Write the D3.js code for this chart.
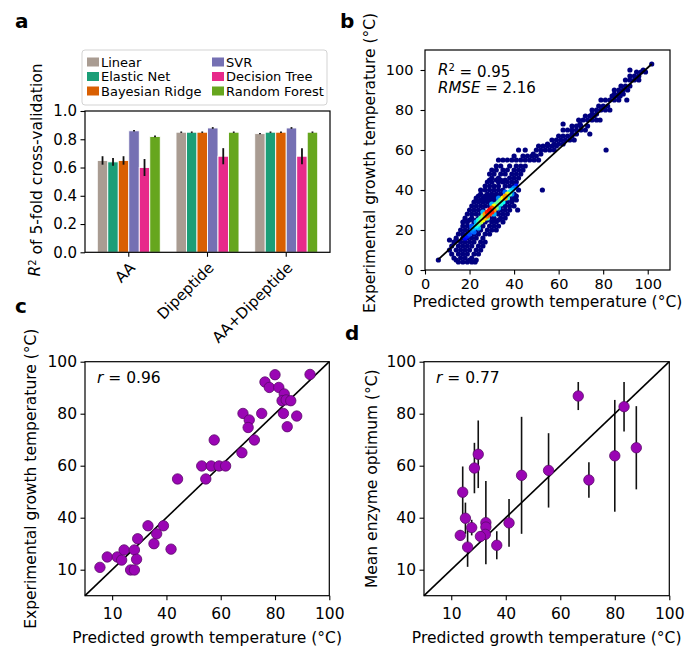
<!DOCTYPE html>
<html>
<head>
<meta charset="utf-8">
<script src="https://cdn.jsdelivr.net/npm/d3@7"></script>
<style>
  body { margin: 0; background: #fff; }
  text { font-family: "DejaVu Sans", sans-serif; }
</style>
</head>
<body>
<script>
// ---- panel a data ----
var groups = ["AA", "Dipeptide", "AA+Dipeptide"]
var models = ["Linear", "Elastic Net", "Bayesian Ridge", "SVR", "Decision Tree", "Random Forest"]
var modelColors = ["#a99c92", "#1b9e77", "#d95f02", "#7570b3", "#e7298a", "#66a61e"]
var r2AA = [0.65, 0.64, 0.65, 0.86, 0.60, 0.82]
var r2Dipeptide = [0.85, 0.85, 0.85, 0.88, 0.68, 0.85]
var r2Both = [0.84, 0.85, 0.85, 0.88, 0.68, 0.85]
var errAA = [0.03, 0.028, 0.03, 0.005, 0.06, 0.006]
var errDipeptide = [0.005, 0.005, 0.005, 0.006, 0.057, 0.005]
var errBoth = [0.005, 0.005, 0.005, 0.006, 0.057, 0.005]
var r2Ticks = [0, 0.2, 0.4, 0.6, 0.8, 1.0]

// ---- panel b data: rows of experimental temp -> predicted temps (dark blue points) ----
var scatterRows = [
  [4, [15, 17, 19, 21, 22.5]],
  [5, [6, 14, 20, 23]],
  [6, [13, 16, 18, 21]],
  [8, [12, 15, 17, 19, 22, 24]],
  [10, [11, 14, 16, 18, 20, 23, 25]],
  [12, [12, 15, 17, 19, 21, 24, 26]],
  [14, [13, 16, 18, 20, 22, 25, 27]],
  [15, [11, 14]],
  [16, [14, 17, 19, 21, 23, 26]],
  [18, [15, 17, 19, 22, 24, 27, 29]],
  [20, [16, 18, 20, 23, 25, 28, 30, 32]],
  [22, [17, 19, 21, 24, 26, 29, 31, 33]],
  [24, [17, 19, 22, 27, 30, 32, 35]],
  [25, [18, 20, 23, 28, 31, 33]],
  [26, [18, 21, 24, 29, 31, 34, 36]],
  [28, [19, 21, 23, 25, 31, 33, 35, 37]],
  [30, [20, 22, 24, 26, 32, 34, 36, 38, 41.6]],
  [32, [21, 23, 25, 27, 29, 34, 36, 38, 40]],
  [34, [22, 24, 26, 28, 30, 32, 37, 39]],
  [35, [23, 25, 27, 29, 31, 39, 41]],
  [36, [23, 26, 28, 30, 32, 34, 40]],
  [37, [24, 27, 29, 31, 33, 38, 41]],
  [38, [25, 28, 30, 32, 34, 40]],
  [40, [25, 27, 29, 31, 33, 35, 42, 52.7]],
  [42, [27, 29, 31, 33, 36, 38, 40]],
  [44, [28, 30, 33, 35, 37, 39, 41]],
  [45, [29, 32, 34, 36]],
  [46, [30, 33, 38, 40, 42]],
  [48, [29, 31, 34, 36, 39, 41, 43]],
  [50, [30, 32, 35, 37, 40, 42, 44]],
  [52, [32, 34, 38, 41, 43, 45]],
  [55, [33, 35, 37, 39, 41, 43, 45, 47, 49, 51]],
  [57, [40, 44, 46, 48, 50]],
  [58, [48.6, 52]],
  [60, [42, 45, 50, 52, 54, 56, 58, 81.3]],
  [62, [51, 53, 55, 57, 59]],
  [63, [55, 58, 60, 62]],
  [65, [57, 59, 61, 63, 65, 67]],
  [67, [60, 62, 64, 66]],
  [68, [66, 68, 74]],
  [70, [62, 64, 66, 68, 70, 72]],
  [72, [66, 68, 70, 73]],
  [73, [62, 69.6]],
  [75, [69, 71, 73, 75, 77, 78.6]],
  [77, [72, 74, 76]],
  [78, [75, 77]],
  [80, [75, 77, 79, 81, 83]],
  [82, [78, 80, 82]],
  [85, [79, 81, 83, 85, 87, 90.6]],
  [87, [84, 86, 87.6]],
  [88, [85, 87, 89]],
  [90, [85, 87, 89, 91]],
  [92, [88, 90, 92]],
  [95, [90, 92, 94, 96]],
  [97, [92, 94, 96]],
  [99, [95, 97, 99]],
  [100, [92, 98]],
  [103, [101.8]]
]
// dense core: [predicted, experimental, relative density]
var densePoints = [
  [20, 18, 0.2], [21, 20, 0.25], [22, 19, 0.22], [22, 21, 0.3], [23, 22, 0.38], [24, 23, 0.45],
  [24, 21, 0.3], [25, 24, 0.55], [25, 26, 0.45], [26, 25, 0.62], [26, 27, 0.5], [27, 26, 0.68],
  [27, 28, 0.72], [28, 27, 0.78], [28, 29, 0.85], [29, 28, 0.82], [29, 30, 0.88], [30, 29, 0.84],
  [30, 31, 0.8], [31, 30, 0.72], [31, 32, 0.62], [32, 31, 0.5], [32, 33, 0.48], [33, 34, 0.45],
  [34, 33, 0.4], [34, 35, 0.5], [35, 36, 0.62], [36, 36, 0.7], [36, 37, 0.72], [37, 38, 0.6],
  [38, 38, 0.45], [38, 39, 0.4], [39, 40, 0.32], [40, 41, 0.25], [37, 36, 0.4], [35, 34, 0.38],
  [33, 31, 0.3], [23, 24, 0.3], [21, 22, 0.2], [19, 17, 0.15], [26, 29, 0.3], [30, 33, 0.3],
  [33, 36, 0.25], [36, 39, 0.22], [28, 26, 0.45], [31, 28, 0.3], [24, 25, 0.4], [39, 38, 0.25],
  [41, 42, 0.15], [18, 16, 0.12]
]
var fitLine = [[6, 5.3], [101.8, 103]]
var bTicks = [0, 20, 40, 60, 80, 100]

// ---- panel c data ----
var predC = [15.5, 18.2, 21.9, 23.5, 24.4, 26.8, 28.2, 28.2, 29.0, 29.4, 33.2, 35.4, 36.4, 38.9, 41.7, 44.1, 53.0, 54.5, 56.5, 57.6,
  59.4, 61.8, 67.8, 68.2, 70.5, 70.1, 72.4, 75.1, 76.3, 77.9, 80.0, 81.4, 83.4, 82.6, 84.1, 85.8, 83.1, 84.5, 88.0, 92.9]
var expC = [20.9, 24.9, 24.9, 23.7, 27.6, 19.9, 19.9, 27.6, 24.0, 31.9, 36.9, 30.0, 33.8, 36.9, 27.9, 54.9, 59.9, 54.9, 59.9, 69.9,
  59.9, 59.9, 65.0, 80.1, 77.6, 74.7, 69.9, 80.1, 92.2, 90.1, 95.0, 90.1, 87.6, 85.0, 85.3, 85.0, 80.1, 75.0, 79.1, 95.1]

// ---- panel d data ----
var predD = [66.6, 83.4, 87.9, 80.0, 70.5, 55.7, 45.8, 41.2, 36.7, 32.7, 32.7, 32.5, 30.7, 29.9, 28.5, 27.5, 26.0, 25.2, 24.2, 23.3]
var enzD = [86.8, 82.7, 66.9, 63.8, 54.5, 58.2, 56.3, 38.0, 29.4, 38.1, 36.4, 33.6, 32.8, 64.4, 59.1, 36.2, 28.7, 39.8, 49.8, 33.2]
var enzErr = [5.4, 9.5, 16, 21.5, 6.8, 14.3, 22.5, 9.2, 5.4, 16, 3, 2, 2, 13, 9.7, 3, 7.6, 6, 9.9, 2]

var cdTicks = [20, 40, 60, 80, 100]
var cdTickLabels = ["10", "40", "60", "80", "100"]

// ---------------------------------------------------------------
var svg = d3.select("body").append("svg")
    .attr("width", 686)
    .attr("height", 649)

var jet = d3.scaleLinear()
    .domain([0, 0.125, 0.375, 0.625, 0.875, 1])
    .range(["#00007f", "#0000ff", "#00ffff", "#ffff00", "#ff0000", "#7f0000"])

function styleAxis(g, size) {
    g.select(".domain").remove()
    g.attr("font-family", null).attr("font-size", null)
    g.selectAll("line").attr("stroke", "#000").attr("stroke-width", 1.1)
    g.selectAll("text").attr("fill", "#000").style("font-size", size + "px")
}

function frame(x0, x1, y0, y1) {
    svg.append("rect")
        .attr("x", x0).attr("y", y1)
        .attr("width", x1 - x0).attr("height", y0 - y1)
        .attr("fill", "none").attr("stroke", "#000").attr("stroke-width", 1.2)
}

function panelLetter(t, x, y) {
    svg.append("text").attr("x", x).attr("y", y).text(t)
        .style("font-size", "20px").style("font-weight", "bold")
}

function yLabel(t, cx, cy) {
    return svg.append("text")
        .attr("transform", "translate(" + (cx + 5) + "," + cy + ") rotate(-90)")
        .attr("text-anchor", "middle")
        .style("font-size", "15.5px")
        .text(t)
}

function xLabel(t, cx, y) {
    svg.append("text").attr("x", cx).attr("y", y)
        .attr("text-anchor", "middle").style("font-size", "15.5px").text(t)
}

// ================= panel a =================
var a = { left: 85, right: 330, top: 111, bottom: 252.3 }
var barValues = [r2AA, r2Dipeptide, r2Both]
var barErrors = [errAA, errDipeptide, errBoth]

var xA = d3.scaleBand().domain(groups).range([a.left, a.right])
    .paddingInner(0.2).paddingOuter(0.156)
var xInner = d3.scaleBand().domain(models).range([0, xA.bandwidth()])
var yA = d3.scaleLinear().domain([0, 1]).range([a.bottom, a.top])

groups.forEach(function (grp, gi) {
    var gg = svg.append("g").attr("transform", "translate(" + xA(grp) + ",0)")
    gg.selectAll("rect").data(models).enter().append("rect")
        .attr("x", d => xInner(d))
        .attr("y", (d, i) => yA(barValues[gi][i]))
        .attr("width", xInner.bandwidth())
        .attr("height", (d, i) => yA(0) - yA(barValues[gi][i]))
        .attr("fill", (d, i) => modelColors[i])
        .attr("stroke", "#fff").attr("stroke-width", 0.9)
    gg.selectAll("line").data(models).enter().append("line")
        .attr("x1", d => xInner(d) + xInner.bandwidth() / 2)
        .attr("x2", d => xInner(d) + xInner.bandwidth() / 2)
        .attr("y1", (d, i) => yA(barValues[gi][i] - barErrors[gi][i]))
        .attr("y2", (d, i) => yA(barValues[gi][i] + barErrors[gi][i]))
        .attr("stroke", "#111").attr("stroke-width", 1.8)
})

svg.append("g")
    .attr("transform", "translate(" + a.left + ",0)")
    .call(d3.axisLeft(yA).tickValues(r2Ticks).tickFormat(d3.format(".1f")).tickSize(4.5).tickPadding(3.5))
    .call(g => styleAxis(g, 15))

var xAxisA = svg.append("g")
    .attr("transform", "translate(0," + a.bottom + ")")
    .call(d3.axisBottom(xA).tickSize(4.5).tickSizeOuter(0))
    .call(g => styleAxis(g, 15))
xAxisA.selectAll("text")
    .attr("text-anchor", "end")
    .attr("y", 0).attr("dy", "0.6em")
    .attr("transform", "translate(1,10) rotate(-45)")

frame(a.left, a.right, a.bottom, a.top)

var yla = svg.append("text")
    .attr("transform", "translate(40,170) rotate(-90)")
    .attr("text-anchor", "middle")
    .style("font-size", "15.5px")
yla.append("tspan").style("font-style", "italic").text("R")
yla.append("tspan").attr("dy", "-0.45em").style("font-size", "10px").text("2")
yla.append("tspan").attr("dy", "0.45em").text(" of 5-fold cross-validation")

// legend
var leg = svg.append("g")
leg.append("rect").attr("x", 82).attr("y", 50).attr("width", 245).attr("height", 55)
    .attr("rx", 3).attr("fill", "#fff").attr("stroke", "#d3d3d3").attr("stroke-width", 1)
models.forEach(function (m, i) {
    var col = Math.floor(i / 3), row = i % 3
    var lx = col === 0 ? 87 : 212
    var ly = 62 + row * 14.5
    leg.append("rect").attr("x", lx).attr("y", ly - 4.5).attr("width", 12).attr("height", 9)
        .attr("fill", modelColors[i])
    leg.append("text").attr("x", lx + 14).attr("y", ly + 4.6).style("font-size", "13px").text(m)
})

// ================= panel b =================
var b = { left: 425, right: 670, top: 50, bottom: 270 }
var xB = d3.scaleLinear().domain([0, 110]).range([b.left, b.right])
var yB = d3.scaleLinear().domain([0, 110]).range([b.bottom, b.top])

var bluePoints = []
scatterRows.forEach(function (r) {
    r[1].forEach(function (p) { bluePoints.push([p, r[0], 0]) })
})
var allB = bluePoints.concat(densePoints.slice().sort((p, q) => p[2] - q[2]))

svg.append("g").selectAll("circle").data(allB).enter().append("circle")
    .attr("cx", d => xB(d[0]))
    .attr("cy", d => yB(d[1]))
    .attr("r", 2.6)
    .attr("fill", d => jet(d[2]))

svg.append("line")
    .attr("x1", xB(fitLine[0][0])).attr("y1", yB(fitLine[0][1]))
    .attr("x2", xB(fitLine[1][0])).attr("y2", yB(fitLine[1][1]))
    .attr("stroke", "#000").attr("stroke-width", 1.8)

svg.append("g").attr("transform", "translate(" + b.left + ",0)")
    .call(d3.axisLeft(yB).tickValues(bTicks).tickSize(4.5).tickPadding(7))
    .call(g => styleAxis(g, 14.5))
svg.append("g").attr("transform", "translate(0," + b.bottom + ")")
    .call(d3.axisBottom(xB).tickValues(bTicks).tickSize(4.5).tickPadding(4))
    .call(g => styleAxis(g, 14.5))
frame(b.left, b.right, b.bottom, b.top)

var r2t = svg.append("text").attr("x", 438).attr("y", 75).style("font-size", "15px")
r2t.append("tspan").style("font-style", "italic").text("R")
r2t.append("tspan").attr("dy", "-0.45em").style("font-size", "10px").text("2")
r2t.append("tspan").attr("dy", "0.45em").text(" = 0.95")
var rmt = svg.append("text").attr("x", 438).attr("y", 93).style("font-size", "15px")
rmt.append("tspan").style("font-style", "italic").text("RMSE")
rmt.append("tspan").text(" = 2.16")

yLabel("Experimental growth temperature (°C)", 370, 163)
xLabel("Predicted growth temperature (°C)", (b.left + b.right) / 2, 307)

// ================= panels c and d =================
function scatterPanel(p, xs, ys, errs, rText) {
    var x = d3.scaleLinear().domain([10, 100]).range([p.left, p.right])
    var y = d3.scaleLinear().domain([10, 100]).range([p.bottom, p.top])

    if (errs) {
        svg.append("g").selectAll("line").data(xs).enter().append("line")
            .attr("x1", d => x(d)).attr("x2", d => x(d))
            .attr("y1", (d, i) => y(ys[i] - errs[i]))
            .attr("y2", (d, i) => y(ys[i] + errs[i]))
            .attr("stroke", "#111").attr("stroke-width", 1.6)
    }

    svg.append("line")
        .attr("x1", x(10)).attr("y1", y(10))
        .attr("x2", x(100)).attr("y2", y(100))
        .attr("stroke", "#000").attr("stroke-width", 1.6)

    svg.append("g").selectAll("circle").data(xs).enter().append("circle")
        .attr("cx", d => x(d))
        .attr("cy", (d, i) => y(ys[i]))
        .attr("r", 5.2)
        .attr("fill", "#9a05b4")
        .attr("stroke", "#5a0a6a").attr("stroke-width", 0.8)

    svg.append("g").attr("transform", "translate(" + p.left + ",0)")
        .call(d3.axisLeft(y).tickValues(cdTicks).tickFormat((d, i) => cdTickLabels[i]).tickSize(4.5).tickPadding(3.5))
        .call(g => styleAxis(g, 15.5))
    svg.append("g").attr("transform", "translate(0," + p.bottom + ")")
        .call(d3.axisBottom(x).tickValues(cdTicks).tickFormat((d, i) => cdTickLabels[i]).tickSize(4.5).tickPadding(8))
        .call(g => styleAxis(g, 15.5))
    frame(p.left, p.right, p.bottom, p.top)

    var rt = svg.append("text").attr("x", p.left + 12).attr("y", 383).style("font-size", "15.5px")
    rt.append("tspan").style("font-style", "italic").text("r")
    rt.append("tspan").text(" = " + rText)

    xLabel("Predicted growth temperature (°C)", (p.left + p.right) / 2, 643)
}

var c = { left: 85, right: 329.3, top: 361.7, bottom: 595.7 }
var d = { left: 424, right: 669.3, top: 361.7, bottom: 595.7 }
scatterPanel(c, predC, expC, null, "0.96")
scatterPanel(d, predD, enzD, enzErr, "0.77")
yLabel("Experimental growth temperature (°C)", 31, (c.top + c.bottom) / 2)
yLabel("Mean enzyme optimum (°C)", 372, (d.top + d.bottom) / 2)

panelLetter("a", 15, 28)
panelLetter("b", 340, 28)
panelLetter("c", 15, 313)
panelLetter("d", 345, 340)
</script>
</body>
</html>
